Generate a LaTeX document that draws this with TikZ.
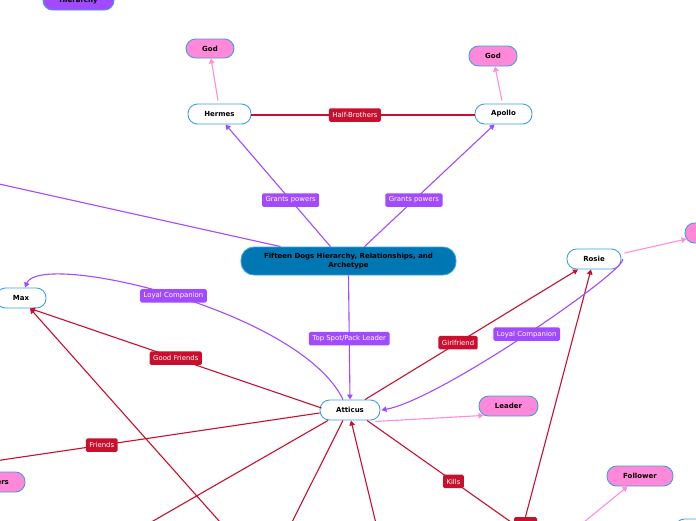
\documentclass[tikz,border=0pt]{standalone}
\usepackage{fontspec}
\setmainfont{DejaVu Sans}
\usetikzlibrary{arrows.meta,calc}
\definecolor{relpurple}{RGB}{162,74,255}
\definecolor{relred}{RGB}{200,16,46}
\definecolor{pinkfill}{RGB}{255,136,216}
\definecolor{linkpink}{RGB}{255,140,220}
\definecolor{nodeblue}{RGB}{60,160,230}
\definecolor{centralblue}{RGB}{0,119,179}
\tikzset{
  topic/.style={draw=nodeblue, line width=0.9pt, fill=white, rounded corners=9.5pt,
    minimum height=20pt, inner sep=0pt, text=black,
    font=\fontsize{7}{8.2}\selectfont\bfseries},
  pinktopic/.style={topic, fill=pinkfill},
  lab/.style={rounded corners=1.5pt, inner xsep=3.5pt, inner ysep=0pt, minimum height=13.5pt,
    text=white, font=\fontsize{6.9}{7.5}\selectfont},
  redlab/.style={lab, fill=relred},
  purplab/.style={lab, fill=relpurple},
  purpline/.style={draw=relpurple, line width=1.1pt},
  redline/.style={draw=relred, line width=1.1pt},
  pinkline/.style={draw=linkpink, line width=1.1pt},
  arr/.style={-{Triangle[length=5pt,width=5.5pt]}}
}
\begin{document}
\begin{tikzpicture}[x=1pt,y=-1pt]
\useasboundingbox (0,0) rectangle (696,520);
\clip (0,0) rectangle (696,520);

% nodes
\node[topic, fill=relpurple, minimum width=71pt, minimum height=19pt] (hier) at (78.5,0.5) {Hierarchy};
\node[pinktopic, minimum width=48pt, minimum height=19pt] (god1) at (210,48.5) {God};
\node[pinktopic, minimum width=48pt] (god2) at (493,56) {God};
\node[topic, minimum width=63pt] (hermes) at (219.5,114) {Hermes};
\node[topic, minimum width=57pt] (apollo) at (503.5,114) {Apollo};
\node[topic, fill=centralblue, draw=nodeblue, minimum width=215pt, minimum height=28pt,
      rounded corners=13pt, align=center] (central) at (348.5,261)
      {Fifteen Dogs Hierarchy, Relationships, and\\Archetype};
\node[topic, minimum width=50pt] (max) at (21,298) {Max};
\node[topic, minimum width=54pt] (rosie) at (594,259) {Rosie};
\node[pinktopic, minimum width=60pt] (trpink) at (715,233) {};
\node[topic, minimum width=60pt] (atticus) at (350,410) {Atticus};
\node[pinktopic, minimum width=59pt] (leader) at (508.5,406) {Leader};
\node[pinktopic, minimum width=66pt] (follower) at (640,476) {Follower};
\node[pinktopic, minimum width=70pt] (followers) at (-10,482) {Followers};
\node[topic, minimum width=70pt] (brnode) at (710,529) {};
\node[lab, fill=relred, minimum width=23pt, minimum height=14pt] (botred) at (525.5,524) {};

% off-canvas ends
\coordinate (offleft) at (-100,162);
\coordinate (offleft2) at (-100,475);
\coordinate (botmax) at (236,540);
\coordinate (botA) at (120,540);
\coordinate (botB) at (283,540);
\coordinate (botC) at (380,540);
\coordinate (botD) at (536.5,540);
\coordinate (botF) at (562,540);

% connectors
\draw[purpline, arr] ($(central.north)+(-18,0)$) -- ($(hermes.south)+(6,0)$)
  node[purplab, pos=0.38] {Grants powers};
\draw[purpline, arr] ($(central.north)+(16,0)$) -- ($(apollo.south)+(-9,0)$)
  node[purplab, pos=0.38] {Grants powers};
\draw[purpline] ($(central.north)+(-68,0)$) -- (offleft);
\draw[pinkline, arr, shorten <=3pt] ($(hermes.north)+(-1,0)$) -- ($(god1.south)+(1,0)$);
\draw[pinkline, arr, shorten <=3pt] ($(apollo.north)+(-1,0)$) -- ($(god2.south)+(2,0)$);
\draw[redline] ($(hermes.east)+(0,1)$) -- ($(apollo.west)+(0,1)$)
  node[redlab, pos=0.464] {Half-Brothers};
\draw[purpline, arr] (central.south) -- (atticus.north)
  node[purplab, pos=0.51] {Top Spot/Pack Leader};
\draw[purpline, arr] ($(atticus.north)+(-7,0)$) .. controls (300,310) and (40,250) .. ($(max.north)+(4,0)$)
  node[purplab, pos=0.5] {Loyal Companion};
\draw[redline, arr] ($(atticus.west)+(2,-2)$) -- ($(max.south)+(9,0)$)
  node[redlab, pos=0.5] {Good Friends};
\draw[redline, arr] (botmax) -- ($(max.south)+(9,0)$);
\draw[redline] ($(atticus.west)+(0,3)$) -- (offleft2)
  node[redlab, pos=0.519] {Friends};
\draw[redline] ($(atticus.south)+(-22,0)$) -- (botA);
\draw[redline] ($(atticus.south)+(-7,0)$) -- (botB);
\draw[redline, arr] (botC) -- ($(atticus.south)+(1,0)$);
\draw[redline] ($(atticus.south)+(17,0)$) -- (botD)
  node[redlab, pos=0.51] {Kills};
\draw[redline, arr] ($(atticus.north)+(15,0)$) -- ($(rosie.south)+(-16,0)$)
  node[redlab, pos=0.437] {Girlfriend};
\draw[redline, arr] (botred.north) -- ($(rosie.south)+(-3,0)$);
\draw[purpline, arr] ($(rosie.east)+(1,0)$) .. controls (630,268) and (440,400) .. ($(atticus.east)+(1,0)$)
  node[purplab, pos=0.5] {Loyal Companion};
\draw[pinkline, arr] ($(rosie.east)+(3,-6)$) -- ($(trpink.west)+(2,6)$);
\draw[pinkline, arr] ($(atticus.south east)+(-5,1)$) -- ($(leader.south west)+(5,-1)$);
\draw[pinkline, arr] (botF) -- ($(follower.south west)+(21,0)$);
\end{tikzpicture}
\end{document}
